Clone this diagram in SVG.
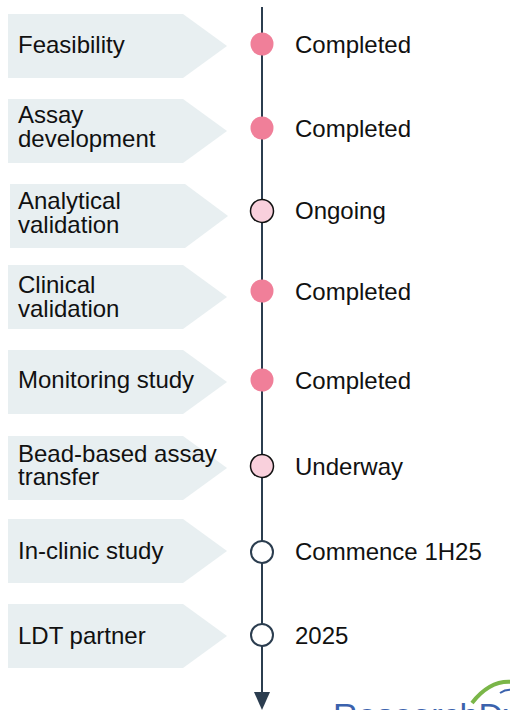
<svg xmlns="http://www.w3.org/2000/svg" width="510" height="710" viewBox="0 0 510 710">
<defs>
<style>
.shape{fill:#e8eff1}
.lbl{font-family:"Liberation Sans",Arial,sans-serif;font-size:24px;fill:#111}
.st{font-family:"Liberation Sans",Arial,sans-serif;font-size:24px;fill:#111}
.done{fill:#f07f99;stroke:none}
.prog{fill:#f9d0dc;stroke:#111;stroke-width:1.5}
.todo{fill:#fff;stroke:#2b3d4f;stroke-width:2}
.axis{stroke:#2b3d4f;stroke-width:2;fill:none}
</style>
<marker id="ah" markerWidth="18" markerHeight="16" refX="1" refY="8" orient="auto" markerUnits="userSpaceOnUse" viewBox="0 0 18 16">
<path d="M0,0 L18,8 L0,16 Z" fill="#2b3d4f"/>
</marker>
</defs>
<rect width="510" height="710" fill="#fff"/>
<g id="connectors">
<line class="axis" x1="262" y1="7" x2="262" y2="693" marker-end="url(#ah)"/>
</g>
<g id="logo">
<text x="333" y="727" font-family="Liberation Sans,Arial,sans-serif" font-size="34" fill="#3b62ad">ResearchDx</text>
<path d="M472,703 Q490,680 512,682" fill="none" stroke="#7ab648" stroke-width="4"/>
<path d="M500,693 Q506,689 512,690" fill="none" stroke="#3b62ad" stroke-width="2"/>
</g>
<g id="n1">
<path class="shape" d="M8,14 H183 L227,46 L183,78 H8 Z"/>
<text class="lbl" x="18" y="53">Feasibility</text>
<circle class="done" cx="262" cy="44" r="11.5"/>
<text class="st" x="295" y="52.5">Completed</text>
</g>
<g id="n2">
<path class="shape" d="M8,99 H183 L227,131 L183,163 H8 Z"/>
<text class="lbl" x="18" y="123">Assay</text>
<text class="lbl" x="18" y="146.5">development</text>
<circle class="done" cx="262" cy="128" r="11.5"/>
<text class="st" x="295" y="136.5">Completed</text>
</g>
<g id="n3">
<path class="shape" d="M10,184 H185 L228,216 L185,248 H10 Z"/>
<text class="lbl" x="18" y="209">Analytical</text>
<text class="lbl" x="18" y="232.5">validation</text>
<circle class="prog" cx="262" cy="211" r="11.5"/>
<text class="st" x="295" y="219">Ongoing</text>
</g>
<g id="n4">
<path class="shape" d="M8,265 H183 L227,297 L183,329 H8 Z"/>
<text class="lbl" x="18" y="293">Clinical</text>
<text class="lbl" x="18" y="317">validation</text>
<circle class="done" cx="262" cy="291" r="11.5"/>
<text class="st" x="295" y="299.5">Completed</text>
</g>
<g id="n5">
<path class="shape" d="M8,350 H183 L227,382 L183,414 H8 Z"/>
<text class="lbl" x="18" y="388">Monitoring study</text>
<circle class="done" cx="262" cy="380" r="11.5"/>
<text class="st" x="295" y="388.5">Completed</text>
</g>
<g id="n6">
<path class="shape" d="M8,436 H183 L227,468 L183,500 H8 Z"/>
<text class="lbl" x="18" y="461.5">Bead-based assay</text>
<text class="lbl" x="18" y="485">transfer</text>
<circle class="prog" cx="262" cy="466" r="11.5"/>
<text class="st" x="295" y="474.5">Underway</text>
</g>
<g id="n7">
<path class="shape" d="M8,519 H183 L227,551 L183,583 H8 Z"/>
<text class="lbl" x="18" y="559">In-clinic study</text>
<circle class="todo" cx="262" cy="552" r="11"/>
<text class="st" x="295" y="560">Commence 1H25</text>
</g>
<g id="n8">
<path class="shape" d="M8,604 H183 L227,636 L183,668 H8 Z"/>
<text class="lbl" x="18" y="643.5">LDT partner</text>
<circle class="todo" cx="262" cy="635" r="11"/>
<text class="st" x="295" y="643.5">2025</text>
</g>
</svg>
